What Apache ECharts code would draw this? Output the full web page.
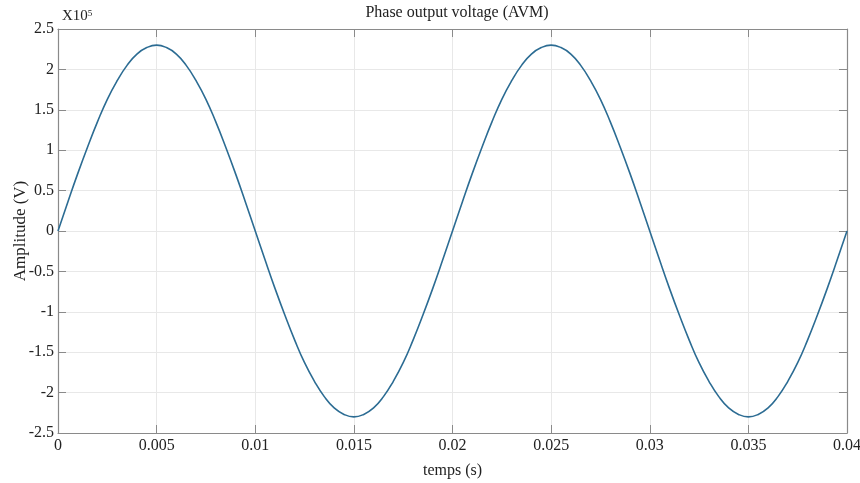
<!DOCTYPE html>
<html>
<head>
<meta charset="utf-8">
<script src="https://cdn.jsdelivr.net/npm/echarts@6/dist/echarts.min.js"></script>
<style>
  html, body { margin: 0; padding: 0; background: #fff; }
  #main { width: 860px; height: 483px; }
</style>
</head>
<body>
<div id="main"></div>
<script>
// temps (s), pas de 0.0005
var times = [];
for (var i = 0; i <= 80; i++) times.push(+(i * 0.0005).toFixed(4));
// amplitude, en unités de 1e5 V
var halfUp = [0, 0.36, 0.71, 1.04, 1.35, 1.63, 1.86, 2.05, 2.19, 2.27, 2.30,
              2.27, 2.19, 2.05, 1.86, 1.63, 1.35, 1.04, 0.71, 0.36, 0];
var halfDown = [-0.36, -0.71, -1.04, -1.35, -1.63, -1.86, -2.05, -2.19, -2.27, -2.30,
                -2.27, -2.19, -2.05, -1.86, -1.63, -1.35, -1.04, -0.71, -0.36, 0];
var amplitude = [].concat(halfUp, halfDown, halfUp.slice(1), halfDown);
var xTicks = ['0', '0.005', '0.01', '0.015', '0.02', '0.025', '0.03', '0.035', '0.04'];

var points = times.map(function (t, i) { return [t, amplitude[i]]; });

var fontFam = '"Liberation Serif", "DejaVu Serif", serif';
var axisCol = '#8a8a8a';
var txtCol = '#222';

var myChart = echarts.init(document.getElementById('main'));
var option = {
    backgroundColor: '#fff',
    animation: false,
    title: {
        text: 'Phase output voltage (AVM)',
        left: 452,
        textAlign: 'center',
        top: 0,
        textStyle: { fontFamily: fontFam, fontSize: 16, fontWeight: 'normal', color: txtCol }
    },
    graphic: [{
        type: 'text',
        left: 62,
        top: 9,
        style: {
            text: 'X10{s|5}',
            font: '15px ' + fontFam,
            fill: txtCol,
            rich: { s: { fontSize: 9, verticalAlign: 'top', padding: [0, 0, 6, 0], fontFamily: fontFam, fill: txtCol } }
        }
    }],
    grid: { left: 58, right: 13, top: 29, bottom: 50, outerBoundsMode: 'none', containLabel: false },
    xAxis: [{
        type: 'value',
        min: 0, max: 0.04, interval: 0.005,
        name: 'temps (s)',
        nameLocation: 'middle',
        nameGap: 30,
        nameTextStyle: { fontFamily: fontFam, fontSize: 16, color: txtCol },
        axisLine: { onZero: false, lineStyle: { color: axisCol, width: 1.2 } },
        axisTick: { inside: true, length: 8, lineStyle: { color: axisCol } },
        axisLabel: {
            fontFamily: fontFam, fontSize: 16, color: txtCol, margin: 5,
            formatter: function (v) { return xTicks[Math.round(v / 0.005)]; }
        },
        splitLine: { show: true, lineStyle: { color: '#e8e8e8', width: 1 } }
    }, {
        type: 'value', position: 'top',
        min: 0, max: 0.04, interval: 0.005,
        axisLine: { show: true, onZero: false, lineStyle: { color: axisCol, width: 1.2 } },
        axisTick: { inside: true, length: 8, lineStyle: { color: axisCol } },
        axisLabel: { show: false },
        splitLine: { show: false }
    }],
    yAxis: [{
        type: 'value',
        min: -2.5, max: 2.5, interval: 0.5,
        name: 'Amplitude (V)',
        nameLocation: 'middle',
        nameGap: 29,
        nameMoveOverlap: false,
        nameTextStyle: { fontFamily: fontFam, fontSize: 17, color: txtCol },
        axisLine: { show: true, onZero: false, lineStyle: { color: axisCol, width: 1.2 } },
        axisTick: { show: true, inside: true, length: 8, lineStyle: { color: axisCol } },
        axisLabel: { fontFamily: fontFam, fontSize: 16, color: txtCol, margin: 4 },
        splitLine: { show: true, lineStyle: { color: '#e8e8e8', width: 1 } }
    }, {
        type: 'value', position: 'right',
        min: -2.5, max: 2.5, interval: 0.5,
        axisLine: { show: true, onZero: false, lineStyle: { color: axisCol, width: 1.2 } },
        axisTick: { show: true, inside: true, length: 8, lineStyle: { color: axisCol } },
        axisLabel: { show: false },
        splitLine: { show: false }
    }],
    series: [{
        type: 'line',
        data: points,
        smooth: true,
        showSymbol: false,
        lineStyle: { color: '#2c6c93', width: 1.6 }
    }]
};
myChart.setOption(option);
</script>
</body>
</html>
